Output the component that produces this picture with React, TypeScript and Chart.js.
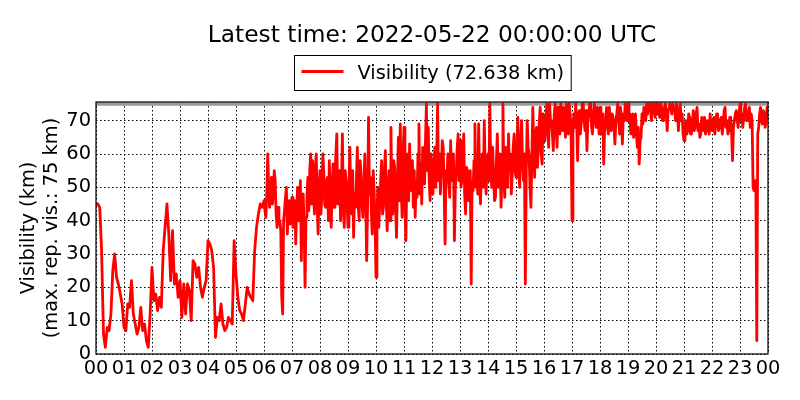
import { useEffect, useRef } from "react";
import { Chart, registerables } from "chart.js";

Chart.register(...registerables);

const TITLE = "Latest time: 2022-05-22 00:00:00 UTC";
const SERIES_NAME = "Visibility";
const LATEST_VALUE = 72.638;
const MAX_REP_VIS = 75;
const Y_TITLE_LINES = ["Visibility (km)", "(max. rep. vis.: 75 km)"];
const Y_MAX = 75.6;
const X_TICK_LABELS = [
  "00", "01", "02", "03", "04", "05", "06", "07", "08", "09", "10", "11",
  "12", "13", "14", "15", "16", "17", "18", "19", "20", "21", "22", "23", "00",
];
const Y_TICK_VALUES = [0, 10, 20, 30, 40, 50, 60, 70];

// visibility (km) per hour (UTC); samples evenly spaced inside each hour
// (4-minute samples for 00-05 UTC, 2-minute samples afterwards)
const h00 = [45, 45, 44, 31, 6, 2, 8, 7, 12, 25, 30, 23, 21, 18, 15];
const h01 = [8, 7, 15, 14, 22, 12, 9, 6, 8, 14, 7, 9, 4, 2, 12];
const h02 = [26, 16, 18, 13, 17, 14, 31, 38, 45, 36, 22, 37, 21, 24, 17];
const h03 = [22, 11, 21, 12, 21, 19, 10, 28, 27, 23, 26, 20, 17, 20, 22];
const h04 = [34, 33, 31, 26, 5, 11, 10, 15, 9, 7, 8, 11, 10, 9, 34];
const h05 = [24, 17, 13, 12, 10, 15, 20, 18, 17, 16, 31, 38, 42, 45, 44];
const h06 = [46, 43, 41, 48, 60, 50, 44, 47, 53, 45, 48, 55, 52, 42, 38, 44, 39, 40, 37, 17, 12, 40, 43, 47, 50, 36, 43, 46, 39, 44];
const h07 = [47, 38, 41, 46, 33, 44, 50, 40, 43, 52, 28, 45, 48, 38, 20, 41, 47, 53, 43, 55, 60, 45, 58, 50, 42, 56, 60, 44, 36, 50];
const h08 = [55, 42, 48, 60, 55, 45, 44, 52, 53, 40, 58, 47, 38, 50, 57, 44, 52, 60, 66, 45, 47, 55, 40, 50, 66, 43, 38, 55, 52, 45];
const h09 = [38, 50, 62, 46, 42, 55, 35, 48, 44, 52, 62, 44, 40, 58, 54, 45, 41, 50, 60, 47, 28, 45, 71, 48, 53, 42, 36, 55, 49, 40];
const h10 = [23, 40, 50, 38, 45, 52, 58, 42, 44, 55, 61, 46, 37, 50, 55, 40, 68, 48, 42, 58, 56, 44, 35, 52, 65, 46, 69, 50, 41, 60];
const h11 = [68, 45, 34, 52, 60, 46, 63, 50, 49, 58, 44, 55, 41, 52, 47, 60, 69, 48, 57, 45, 62, 55, 51, 64, 75, 55, 68, 52, 46, 60];
const h12 = [56, 48, 55, 62, 50, 58, 75, 52, 60, 48, 56, 64, 62, 50, 33, 55, 52, 60, 51, 47, 64, 52, 56, 60, 34, 50, 54, 62, 66, 52];
const h13 = [64, 50, 52, 58, 66, 48, 42, 56, 55, 46, 50, 55, 21, 52, 49, 58, 69, 50, 58, 48, 69, 52, 45, 57, 60, 50, 70, 55, 48, 58];
const h14 = [60, 52, 75, 55, 50, 62, 53, 46, 47, 58, 66, 50, 54, 60, 44, 55, 75, 52, 47, 62, 60, 50, 66, 55, 60, 48, 54, 62, 66, 55];
const h15 = [53, 62, 71, 55, 50, 64, 70, 58, 52, 60, 21, 55, 70, 62, 60, 50, 44, 58, 74, 62, 53, 66, 68, 56, 62, 70, 74, 60, 57, 72];
const h16 = [70, 64, 70, 75, 68, 62, 75, 70, 70, 66, 61, 72, 75, 68, 62, 74, 73, 66, 75, 70, 67, 74, 72, 65, 75, 70, 66, 75, 72, 68];
const h17 = [40, 66, 72, 68, 75, 70, 58, 72, 73, 66, 70, 75, 75, 70, 67, 73, 61, 70, 72, 75, 75, 68, 66, 72, 75, 70, 68, 74, 72, 66];
const h18 = [74, 68, 66, 72, 57, 68, 70, 74, 68, 66, 74, 70, 67, 72, 71, 68, 63, 70, 72, 75, 70, 66, 74, 70, 63, 72, 70, 75, 74, 70];
const h19 = [75, 70, 72, 66, 68, 72, 65, 70, 72, 66, 62, 68, 57, 64, 65, 72, 69, 74, 73, 70, 75, 72, 74, 75, 75, 70, 73, 75, 75, 71];
const h20 = [75, 72, 75, 73, 71, 75, 74, 70, 70, 74, 75, 72, 67, 73, 74, 75, 75, 72, 75, 74, 74, 70, 75, 73, 67, 72, 75, 70, 72, 66];
const h21 = [64, 68, 70, 66, 67, 72, 71, 66, 66, 70, 73, 67, 68, 72, 74, 67, 69, 65, 66, 71, 70, 67, 71, 66, 67, 70, 69, 66, 72, 68];
const h22 = [67, 70, 71, 66, 69, 72, 72, 67, 68, 70, 71, 66, 69, 73, 74, 68, 70, 66, 67, 71, 71, 66, 58, 68, 70, 72, 73, 70, 68, 72];
const h23 = [75, 70, 72, 68, 71, 74, 75, 70, 70, 72, 74, 68, 72, 70, 50, 49, 52, 50, 4, 66, 68, 72, 74, 70, 69, 73, 72, 68, 70, 74];

const HOURS = [
  h00, h01, h02, h03, h04, h05, h06, h07, h08, h09, h10, h11,
  h12, h13, h14, h15, h16, h17, h18, h19, h20, h21, h22, h23,
];

const FONT = '"DejaVu Sans", "Liberation Sans", sans-serif';

function buildPoints() {
  const pts: { x: number; y: number }[] = [];
  HOURS.forEach((h, hour) => {
    h.forEach((v, j) => pts.push({ x: hour + j / h.length, y: v }));
  });
  pts.push({ x: 24, y: LATEST_VALUE });
  return pts;
}

const decorPlugin = {
  id: "decor",
  afterDraw(chart: any) {
    const { ctx, chartArea: a } = chart;
    ctx.save();
    ctx.strokeStyle = "#000";
    ctx.lineWidth = 1.2;
    ctx.setLineDash([]);
    ctx.strokeRect(a.left, a.top, a.right - a.left, a.bottom - a.top);

    const cx = (a.left + a.right) / 2;
    ctx.fillStyle = "#000";
    ctx.font = `23.3px ${FONT}`;
    ctx.textAlign = "center";
    ctx.textBaseline = "alphabetic";
    ctx.fillText(TITLE, cx, 42);

    const label = `${SERIES_NAME} (${LATEST_VALUE.toFixed(3)} km)`;
    ctx.font = `19.4px ${FONT}`;
    const tw = ctx.measureText(label).width;
    const total = 63 + tw + 7;
    const L = Math.round(cx - total / 2) + 0.5;
    ctx.fillStyle = "#fff";
    ctx.fillRect(L, 55.5, total, 35);
    ctx.strokeStyle = "#000";
    ctx.lineWidth = 1;
    ctx.strokeRect(L, 55.5, total, 35);
    ctx.strokeStyle = "#ff0000";
    ctx.lineWidth = 2.8;
    ctx.beginPath();
    ctx.moveTo(L + 7, 71.5);
    ctx.lineTo(L + 49, 71.5);
    ctx.stroke();
    ctx.fillStyle = "#000";
    ctx.textAlign = "left";
    ctx.fillText(label, L + 63, 79);

    ctx.font = `19.4px ${FONT}`;
    ctx.textAlign = "center";
    const cy = (a.top + a.bottom) / 2;
    const baselines = [34, 57];
    Y_TITLE_LINES.forEach((t, i) => {
      ctx.save();
      ctx.translate(baselines[i], cy);
      ctx.rotate(-Math.PI / 2);
      ctx.fillText(t, 0, 0);
      ctx.restore();
    });
    ctx.restore();
  },
};

export default function App() {
  const ref = useRef<HTMLCanvasElement | null>(null);

  useEffect(() => {
    document.body.style.margin = "0";
    const canvas = ref.current;
    if (!canvas) return;
    const points = buildPoints();
    const chart = new Chart(canvas, {
      type: "line",
      data: {
        datasets: [
          {
            label: SERIES_NAME,
            data: points,
            borderColor: "#ff0000",
            borderWidth: 2.8,
            pointRadius: 0,
            tension: 0,
            borderJoinStyle: "round",
            fill: false,
          },
          {
            label: "max",
            data: [
              { x: 0, y: MAX_REP_VIS },
              { x: 24, y: MAX_REP_VIS },
            ],
            borderColor: "#999999",
            borderWidth: 3.5,
            pointRadius: 0,
            fill: false,
          },
        ],
      },
      options: {
        animation: false,
        responsive: false,
        layout: { padding: { top: 102, right: 32, left: 0, bottom: 0 } },
        plugins: {
          legend: { display: false },
          title: { display: false },
          tooltip: { enabled: false },
        },
        scales: {
          x: {
            type: "linear",
            min: 0,
            max: 24,
            afterFit: (s: any) => {
              s.height = 46;
            },
            afterBuildTicks: (s: any) => {
              s.ticks = X_TICK_LABELS.map((_, i) => ({ value: i }));
            },
            ticks: {
              autoSkip: false,
              maxRotation: 0,
              minRotation: 0,
              includeBounds: false,
              padding: 3,
              color: "#000",
              font: { family: FONT, size: 19.4 },
              callback: (_v: any, i: number) => X_TICK_LABELS[i],
            },
            grid: { color: "#000", lineWidth: 1, drawTicks: false },
            border: { display: false, dash: [1.5, 2.5] },
          },
          y: {
            type: "linear",
            min: 0,
            max: Y_MAX,
            afterFit: (s: any) => {
              s.width = 96;
            },
            afterBuildTicks: (s: any) => {
              s.ticks = Y_TICK_VALUES.map((v) => ({ value: v }));
            },
            ticks: {
              includeBounds: false,
              padding: 5,
              color: "#000",
              font: { family: FONT, size: 19.4 },
              callback: (v: any) => String(v),
            },
            grid: { color: "#000", lineWidth: 1, drawTicks: false },
            border: { display: false, dash: [1.5, 2.5] },
          },
        },
      },
      plugins: [decorPlugin],
    });
    return () => chart.destroy();
  }, []);

  return (
    <div style={{ width: 800, height: 400, background: "#fff" }}>
      <canvas ref={ref} width={800} height={400} style={{ display: "block" }} />
    </div>
  );
}
